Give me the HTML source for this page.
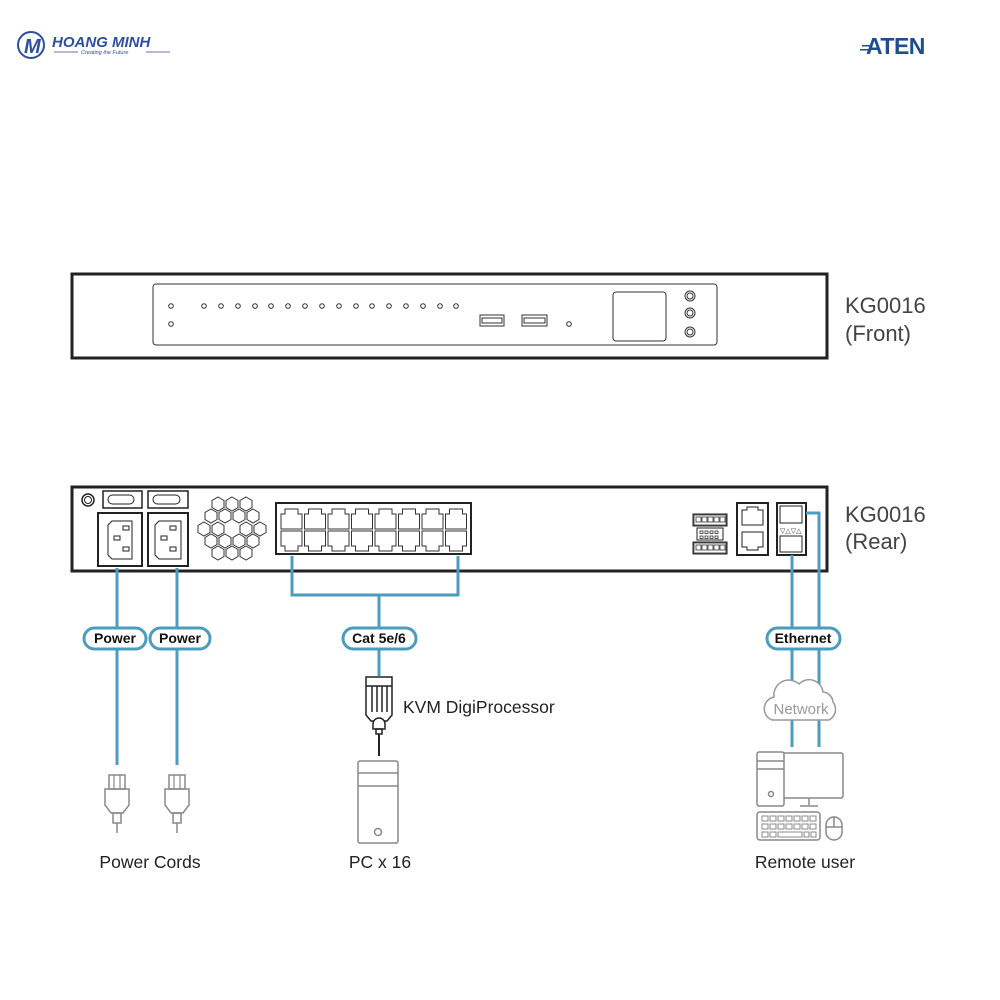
<!DOCTYPE html>
<html><head><meta charset="utf-8"><style>
html,body{margin:0;padding:0;background:#fff;}
svg{display:block;font-family:"Liberation Sans",Arial,sans-serif;}
</style></head><body>
<svg width="1000" height="1000" viewBox="0 0 1000 1000" xmlns="http://www.w3.org/2000/svg">
<defs>
  <path id="pt" d="M0,5 h4 v-5 h13 v5 h4 v15 h-21 z" fill="none" stroke="#333" stroke-width="1"/>
  <path id="pb" d="M0,0 h21 v15 h-4 v5 h-13 v-5 h-4 z" fill="none" stroke="#333" stroke-width="1"/>
  <polygon id="hx" points="0,-7 6,-3.5 6,3.5 0,7 -6,3.5 -6,-3.5" fill="none" stroke="#333" stroke-width="1"/>
  <g id="plug">
    <rect x="-8" y="0" width="16" height="14" fill="none" stroke="#888" stroke-width="1.5"/>
    <line x1="-3" y1="0" x2="-3" y2="14" stroke="#888" stroke-width="1.2"/>
    <line x1="3" y1="0" x2="3" y2="14" stroke="#888" stroke-width="1.2"/>
    <path d="M-12,14 h24 v16 l-6,8 h-12 l-6,-8 z" fill="none" stroke="#888" stroke-width="1.5"/>
    <rect x="-4" y="38" width="8" height="10" fill="none" stroke="#888" stroke-width="1.5"/>
    <line x1="0" y1="48" x2="0" y2="58" stroke="#888" stroke-width="1.5"/>
  </g>
</defs>

<!-- Logos -->
<circle cx="31" cy="45" r="13" fill="none" stroke="#2d4f9e" stroke-width="2"/>
<text x="24" y="53" font-size="20" font-weight="bold" font-style="italic" fill="#2d4f9e">M</text>
<text x="52" y="47" font-size="15" font-weight="bold" font-style="italic" fill="#2d4f9e">HOANG MINH</text>
<line x1="54" y1="52" x2="78" y2="52" stroke="#2d4f9e" stroke-width="0.7"/>
<text x="81" y="54" font-size="5.5" font-style="italic" fill="#2d4f9e">Creating the Future</text>
<line x1="146" y1="52" x2="170" y2="52" stroke="#2d4f9e" stroke-width="0.7"/>
<g fill="#1f4e8c">
<rect x="862" y="45" width="10" height="1.5"/><rect x="860" y="49" width="10" height="1.5"/>
</g>
<text x="866" y="54" font-size="23" font-weight="bold" fill="#1f4e8c" letter-spacing="-0.5">ATEN</text>

<!-- Front panel -->
<rect x="72" y="274" width="755" height="84" fill="none" stroke="#222" stroke-width="3"/>
<rect x="153" y="284" width="564" height="61" rx="3" fill="none" stroke="#333" stroke-width="1"/>
<g fill="none" stroke="#333" stroke-width="1">
<circle cx="171" cy="306" r="2.3"/><circle cx="171" cy="324" r="2.3"/>
<circle cx="204" cy="306" r="2.3"/><circle cx="221" cy="306" r="2.3"/><circle cx="238" cy="306" r="2.3"/><circle cx="255" cy="306" r="2.3"/>
<circle cx="271" cy="306" r="2.3"/><circle cx="288" cy="306" r="2.3"/><circle cx="305" cy="306" r="2.3"/><circle cx="322" cy="306" r="2.3"/>
<circle cx="339" cy="306" r="2.3"/><circle cx="356" cy="306" r="2.3"/><circle cx="372" cy="306" r="2.3"/><circle cx="389" cy="306" r="2.3"/>
<circle cx="406" cy="306" r="2.3"/><circle cx="423" cy="306" r="2.3"/><circle cx="440" cy="306" r="2.3"/><circle cx="456" cy="306" r="2.3"/>
<rect x="480" y="315" width="24" height="11"/><rect x="482" y="318" width="20" height="5"/>
<rect x="522" y="315" width="25" height="11"/><rect x="524" y="318" width="21" height="5"/>
<circle cx="569" cy="324" r="2.3"/>
<rect x="613" y="292" width="53" height="49" rx="3"/>
<circle cx="690" cy="296" r="5"/><circle cx="690" cy="296" r="3"/>
<circle cx="690" cy="313" r="5"/><circle cx="690" cy="313" r="3"/>
<circle cx="690" cy="332" r="5"/><circle cx="690" cy="332" r="3"/>
</g>
<text x="845" y="313" font-size="22" fill="#444">KG0016</text>
<text x="845" y="341" font-size="22" fill="#444">(Front)</text>

<!-- Rear panel -->
<rect x="72" y="487" width="755" height="84" fill="none" stroke="#222" stroke-width="3"/>
<g fill="none" stroke="#222" stroke-width="1.5">
<circle cx="88" cy="500" r="6"/><circle cx="88" cy="500" r="3.5" stroke-width="1"/>
<rect x="103" y="491" width="39" height="17"/><rect x="108" y="495" width="26" height="9" rx="4.5" stroke-width="1"/>
<rect x="148" y="491" width="40" height="17"/><rect x="153" y="495" width="27" height="9" rx="4.5" stroke-width="1"/>
<rect x="98" y="513" width="44" height="53" stroke-width="2"/>
<rect x="148" y="513" width="40" height="53" stroke-width="2"/>
<path d="M108,525 l4,-4 h20 v38 h-20 l-4,-4 z" stroke-width="1"/>
<path d="M155,525 l4,-4 h22 v38 h-22 l-4,-4 z" stroke-width="1"/>
<rect x="123" y="526" width="6" height="4" stroke-width="1"/><rect x="114" y="536" width="6" height="4" stroke-width="1"/><rect x="123" y="547" width="6" height="4" stroke-width="1"/>
<rect x="170" y="526" width="6" height="4" stroke-width="1"/><rect x="161" y="536" width="6" height="4" stroke-width="1"/><rect x="170" y="547" width="6" height="4" stroke-width="1"/>
<rect x="276" y="503" width="195" height="51" stroke-width="2"/>
</g>
<!-- fan -->
<g>
<use href="#hx" x="218" y="504"/><use href="#hx" x="232" y="504"/><use href="#hx" x="246" y="504"/>
<use href="#hx" x="211" y="516"/><use href="#hx" x="225" y="516"/><use href="#hx" x="239" y="516"/><use href="#hx" x="253" y="516"/>
<use href="#hx" x="204" y="529"/><use href="#hx" x="218" y="529"/><use href="#hx" x="246" y="529"/><use href="#hx" x="260" y="529"/>
<use href="#hx" x="211" y="541"/><use href="#hx" x="225" y="541"/><use href="#hx" x="239" y="541"/><use href="#hx" x="253" y="541"/>
<use href="#hx" x="218" y="553"/><use href="#hx" x="232" y="553"/><use href="#hx" x="246" y="553"/>
</g>
<!-- RJ45 block -->
<g>
<use href="#pt" x="281" y="509"/><use href="#pt" x="304.5" y="509"/><use href="#pt" x="328" y="509"/><use href="#pt" x="351.5" y="509"/>
<use href="#pt" x="375" y="509"/><use href="#pt" x="398.5" y="509"/><use href="#pt" x="422" y="509"/><use href="#pt" x="445.5" y="509"/>
<use href="#pb" x="281" y="531"/><use href="#pb" x="304.5" y="531"/><use href="#pb" x="328" y="531"/><use href="#pb" x="351.5" y="531"/>
<use href="#pb" x="375" y="531"/><use href="#pb" x="398.5" y="531"/><use href="#pb" x="422" y="531"/><use href="#pb" x="445.5" y="531"/>
</g>
<!-- right connectors -->
<g fill="none" stroke="#222" stroke-width="1">
<rect x="693" y="514" width="34" height="12" fill="#555"/>
<rect x="697" y="528" width="26" height="12"/>
<rect x="693" y="542" width="34" height="12" fill="#555"/>
<rect x="737" y="503" width="31" height="52" stroke-width="2"/>
<path d="M742,510 h5 v-3 h11 v3 h5 v15 h-21 z"/>
<path d="M742,532 h21 v15 h-5 v3 h-11 v-3 h-5 z"/>
<rect x="777" y="503" width="29" height="52" stroke-width="2"/>
<rect x="780" y="506" width="22" height="17"/>
<rect x="780" y="536" width="22" height="16"/>
</g>
<g fill="#fff" stroke="#fff"><rect x="695" y="516" width="30" height="8"/><rect x="695" y="544" width="30" height="8"/></g>
<g fill="none" stroke="#333" stroke-width="0.8">
<rect x="696" y="517" width="5" height="5"/><rect x="702" y="517" width="5" height="5"/><rect x="708" y="517" width="5" height="5"/><rect x="714" y="517" width="5" height="5"/><rect x="720" y="517" width="5" height="5"/>
<rect x="696" y="545" width="5" height="5"/><rect x="702" y="545" width="5" height="5"/><rect x="708" y="545" width="5" height="5"/><rect x="714" y="545" width="5" height="5"/><rect x="720" y="545" width="5" height="5"/>
<rect x="700" y="531" width="3" height="2.5"/><rect x="705" y="531" width="3" height="2.5"/><rect x="710" y="531" width="3" height="2.5"/><rect x="715" y="531" width="3" height="2.5"/>
<rect x="700" y="536" width="3" height="2.5"/><rect x="705" y="536" width="3" height="2.5"/><rect x="710" y="536" width="3" height="2.5"/><rect x="715" y="536" width="3" height="2.5"/>
</g>
<text x="780" y="533" font-size="7" fill="#333">▽△▽△</text>
<text x="845" y="522" font-size="22" fill="#444">KG0016</text>
<text x="845" y="549" font-size="22" fill="#444">(Rear)</text>

<!-- Cables -->
<g stroke="#4b9cbf" stroke-width="3" fill="none">
<line x1="117" y1="568" x2="117" y2="765"/>
<line x1="177" y1="568" x2="177" y2="765"/>
<polyline points="292,556 292,595 458,595 458,556"/>
<line x1="379" y1="595" x2="379" y2="676"/>
<line x1="792" y1="555" x2="792" y2="747"/>
<polyline points="806,513 819,513 819,747"/>
</g>
<!-- Labels pills -->
<g stroke="#4b9cbf" stroke-width="3" fill="#fff">
<rect x="84" y="628" width="62" height="21" rx="10.5"/>
<rect x="150" y="628" width="60" height="21" rx="10.5"/>
<rect x="343" y="628" width="73" height="21" rx="10.5"/>
<rect x="767" y="628" width="73" height="21" rx="10.5"/>
</g>
<g font-size="14" font-weight="bold" fill="#111" text-anchor="middle">
<text x="115" y="643">Power</text>
<text x="180" y="643">Power</text>
<text x="379" y="643">Cat 5e/6</text>
<text x="803" y="643">Ethernet</text>
</g>

<!-- Power plugs -->
<use href="#plug" x="117" y="775"/>
<use href="#plug" x="177" y="775"/>
<text x="150" y="868" font-size="17.5" fill="#222" text-anchor="middle">Power Cords</text>

<!-- KVM adapter -->
<g fill="none" stroke="#222" stroke-width="1.5">
<path d="M366,677 h26 v38 l-5,6 h-16 l-5,-6 z" fill="#fff"/>
<line x1="366" y1="686" x2="392" y2="686"/>
<line x1="372" y1="686" x2="372" y2="712"/><line x1="377" y1="686" x2="377" y2="712"/><line x1="382" y1="686" x2="382" y2="712"/><line x1="387" y1="686" x2="387" y2="712"/>
<path d="M373,729 v-5 a6,6 0 0 1 12,0 v5 z" fill="#fff"/>
<rect x="376" y="729" width="6" height="5"/>
<line x1="379" y1="734" x2="379" y2="756" stroke-width="2"/>
</g>
<text x="403" y="713" font-size="17.5" fill="#222">KVM DigiProcessor</text>
<!-- PC -->
<g fill="none" stroke="#888" stroke-width="1.5">
<rect x="358" y="761" width="40" height="82" rx="2"/>
<line x1="358" y1="773" x2="398" y2="773"/>
<line x1="358" y1="786" x2="398" y2="786"/>
<circle cx="378" cy="832" r="3.5"/>
</g>
<text x="380" y="868" font-size="17.5" fill="#222" text-anchor="middle">PC x 16</text>

<!-- Network cloud -->
<path d="M772,720 a12,12 0 0 1 2,-23 a15,15 0 0 1 25,-13 a14,14 0 0 1 24,8 a11,11 0 0 1 10,10 a12,12 0 0 1 -4,18 z" fill="#fff" stroke="#999" stroke-width="1.5"/>
<line x1="792" y1="722" x2="792" y2="747" stroke="#4b9cbf" stroke-width="3"/>
<line x1="819" y1="722" x2="819" y2="747" stroke="#4b9cbf" stroke-width="3"/>
<text x="801" y="714" font-size="15" fill="#999" text-anchor="middle">Network</text>
<!-- Remote computer -->
<g fill="none" stroke="#888" stroke-width="1.5">
<rect x="757" y="752" width="27" height="54" rx="2"/>
<line x1="757" y1="761" x2="784" y2="761"/>
<line x1="757" y1="769" x2="784" y2="769"/>
<circle cx="771" cy="794" r="2.5"/>
<path d="M784,753 h57 a2,2 0 0 1 2,2 v41 a2,2 0 0 1 -2,2 h-57"/>
<line x1="809" y1="798" x2="809" y2="805"/>
<line x1="800" y1="806" x2="818" y2="806"/>
<rect x="757" y="812" width="63" height="28" rx="3"/>
<rect x="826" y="817" width="16" height="23" rx="8"/>
<line x1="834" y1="817" x2="834" y2="827"/><line x1="826" y1="827" x2="842" y2="827"/>
</g>
<g fill="none" stroke="#888" stroke-width="1">
<rect x="762" y="816" width="6" height="5"/><rect x="770" y="816" width="6" height="5"/><rect x="778" y="816" width="6" height="5"/><rect x="786" y="816" width="6" height="5"/><rect x="794" y="816" width="6" height="5"/><rect x="802" y="816" width="6" height="5"/><rect x="810" y="816" width="6" height="5"/>
<rect x="762" y="824" width="6" height="5"/><rect x="770" y="824" width="6" height="5"/><rect x="778" y="824" width="6" height="5"/><rect x="786" y="824" width="6" height="5"/><rect x="794" y="824" width="6" height="5"/><rect x="802" y="824" width="6" height="5"/><rect x="810" y="824" width="6" height="5"/>
<rect x="762" y="832" width="6" height="5"/><rect x="770" y="832" width="6" height="5"/><rect x="778" y="832" width="24" height="5"/><rect x="804" y="832" width="5" height="5"/><rect x="811" y="832" width="5" height="5"/>
</g>
<text x="805" y="868" font-size="17.5" fill="#222" text-anchor="middle">Remote user</text>
</svg>
</body></html>
